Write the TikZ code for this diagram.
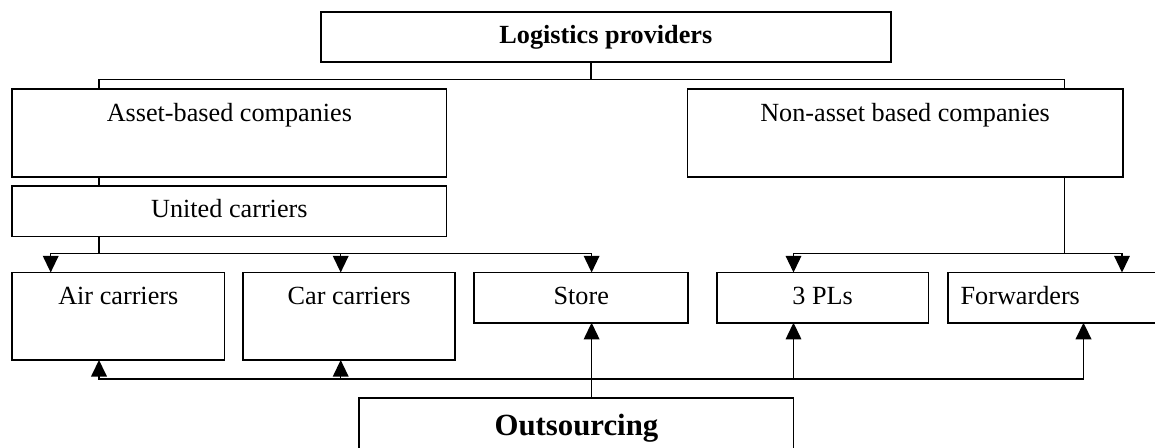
\documentclass[tikz,border=0pt]{standalone}
\usepackage{fontspec}
\setmainfont{Liberation Serif}
\usetikzlibrary{arrows.meta}
\newdimen\upx
\upx=0.5pt
\tikzset{
  box/.style={draw, line width=0.85pt, rectangle, inner sep=0pt, outer sep=0pt},
  txt/.style={inner sep=0pt, outer sep=0pt, font=\fontsize{13.1}{15}\selectfont},
  bigtxt/.style={inner sep=0pt, outer sep=0pt, font=\fontsize{15.4}{18}\selectfont\bfseries},
  conn/.style={line width=0.65pt},
  thick conn/.style={line width=0.9pt},
  tip/.tip={Triangle[length=8.3pt,width=7.8pt]},
}
\begin{document}
\begin{tikzpicture}[x=0.5pt,y=-0.5pt]
\useasboundingbox (0,0) rectangle (1155,448);
% boxes
\node[box, minimum width=570.3\upx, minimum height=50\upx] (tp) at (605.85,37) {};
\node[box, minimum width=434.3\upx, minimum height=87.7\upx] (ab) at (229.35,133.15) {};
\node[box, minimum width=435.2\upx, minimum height=87.7\upx] (nab) at (905.1,133.15) {};
\node[box, minimum width=434.3\upx, minimum height=50.5\upx] (uc) at (229.35,211.25) {};
\node[box, minimum width=212.2\upx, minimum height=87.5\upx] (air) at (118.3,316.25) {};
\node[box, minimum width=211.8\upx, minimum height=87.5\upx] (car) at (349.1,316.25) {};
\node[box, minimum width=214.1\upx, minimum height=50.2\upx] (st) at (581.25,297.6) {};
\node[box, minimum width=211.8\upx, minimum height=50.2\upx] (pl) at (822.6,297.6) {};
\node[box, minimum width=222.3\upx, minimum height=50.2\upx] (fw) at (1058.85,297.6) {};
\node[box, minimum width=434.2\upx, minimum height=50.7\upx] (out) at (576.4,423.65) {};
% texts
\node[txt, anchor=base] (ttp) at (605.85,43.5) {\bfseries Logistics providers};
\node[txt, anchor=base] (tab) at (229.35,121.7) {Asset-based companies};
\node[txt, anchor=base] (tnab) at (905.1,121.7) {Non-asset based companies};
\node[txt, anchor=base] (tuc) at (229.35,218) {United carriers};
\node[txt, anchor=base] (tair) at (118.3,305) {Air carriers};
\node[txt, anchor=base] (tcar) at (349.1,305) {Car carriers};
\node[txt, anchor=base] (tst) at (581.25,305) {Store};
\node[txt, anchor=base] (tpl) at (822.6,305) {3 PLs};
\node[txt, anchor=base west] (tfw) at (960.6,305) {Forwarders};
\node[bigtxt, anchor=base] (tout) at (576.4,435) {Outsourcing};
% top connectors
\coordinate (hL) at (99,79.5);
\coordinate (hM) at (591,79.5);
\coordinate (hR) at (1064.3,79.5);
\draw[conn] (tp.south -| hM) -- (hM);
\draw[conn] (ab.north -| hL) -- (hL) -- (hR) -- (nab.north -| hR);
\draw[conn] (ab.south -| hL) -- (uc.north -| hL);
% left arrow group
\coordinate (a1) at (99,253.3);
\coordinate (aL) at (50.7,253.3);
\coordinate (aC) at (340.7,253.3);
\coordinate (aS) at (591.6,253.3);
\draw[conn] (uc.south -| a1) -- (a1);
\draw[conn, tip-tip] (air.north -| aL) -- (aL) -- (aS) -- (st.north -| aS);
\draw[conn, -tip] (aC) -- (car.north -| aC);
% right arrow group
\coordinate (b1) at (1064.3,253.3);
\coordinate (bP) at (793.5,253.3);
\coordinate (bF) at (1122,253.3);
\draw[conn] (nab.south -| b1) -- (b1);
\draw[conn, tip-tip] (pl.north -| bP) -- (bP) -- (bF) -- (fw.north -| bF);
% bottom arrow group
\coordinate (c1) at (99,379);
\coordinate (c2) at (340.7,379);
\coordinate (c3) at (793.5,379);
\coordinate (c4) at (1083.5,379);
\coordinate (sx) at (591.6,379);
\draw[thick conn, tip-tip] (air.south -| c1) -- (c1) -- (c4) -- (fw.south -| c4);
\draw[conn, -tip] (c2) -- (car.south -| c2);
\draw[conn, -tip] (c3) -- (pl.south -| c3);
\draw[conn, -tip] (out.north -| sx) -- (st.south -| sx);
\end{tikzpicture}
\end{document}
